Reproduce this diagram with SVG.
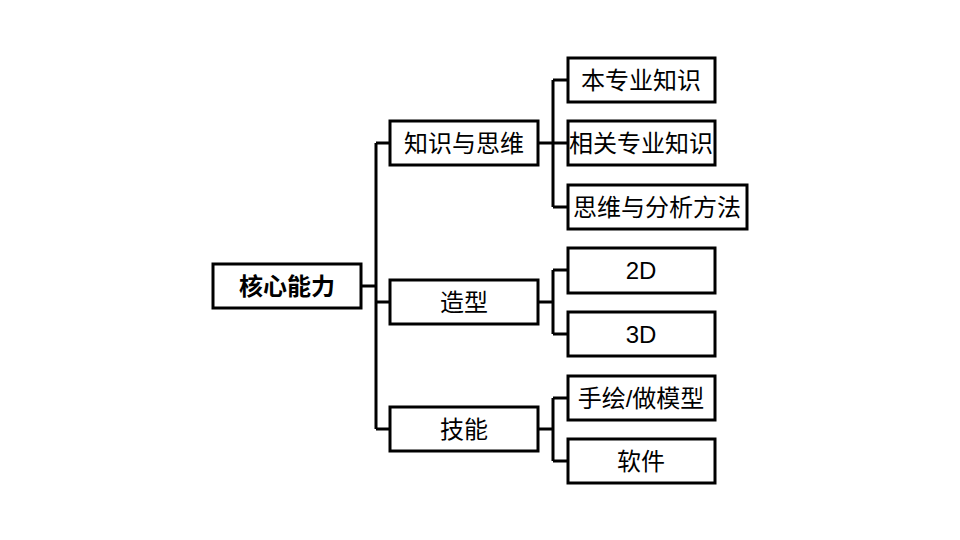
<svg xmlns="http://www.w3.org/2000/svg" width="960" height="540" viewBox="0 0 960 540">
<style>
.box{fill:#fff;stroke:#000;stroke-width:3}
.t{font-family:"Liberation Sans","Noto Sans CJK SC",sans-serif;font-size:24px;fill:#000;text-anchor:middle;dominant-baseline:central}
.b{font-weight:bold}
.c{fill:none;stroke:#000;stroke-width:3;stroke-linejoin:miter}
</style>
<rect width="960" height="540" fill="#fff"/>
<g id="connectors">
<path class="c" d="M361,286 H376 M376,143 V429 M376,143 H390 M376,302 H390 M376,429 H390"/>
<path class="c" d="M538,143 H568 M553,80 V207 M553,80 H568 M553,207 H568"/>
<path class="c" d="M538,302 H553 M553,270 V334 M553,270 H568 M553,334 H568"/>
<path class="c" d="M538,429 H553 M553,398 V461 M553,398 H568 M553,461 H568"/>
</g>
<g id="root"><rect class="box" x="213" y="264" width="148" height="44"/><text class="t b" x="287" y="286">核心能力</text></g>
<g id="n1"><rect class="box" x="390" y="121" width="148" height="44"/><text class="t" x="464" y="143">知识与思维</text></g>
<g id="n2"><rect class="box" x="390" y="280" width="148" height="44"/><text class="t" x="464" y="302">造型</text></g>
<g id="n3"><rect class="box" x="390" y="407" width="148" height="44"/><text class="t" x="464" y="429">技能</text></g>
<g id="n11"><rect class="box" x="568" y="58" width="147" height="44"/><text class="t" x="641" y="80">本专业知识</text></g>
<g id="n12"><rect class="box" x="568" y="121" width="147" height="44"/><text class="t" x="641" y="143">相关专业知识</text></g>
<g id="n13"><rect class="box" x="568" y="185" width="179" height="44"/><text class="t" x="657" y="207">思维与分析方法</text></g>
<g id="n21"><rect class="box" x="568" y="248" width="147" height="45"/><text class="t" x="641" y="270">2D</text></g>
<g id="n22"><rect class="box" x="568" y="312" width="147" height="44"/><text class="t" x="641" y="334">3D</text></g>
<g id="n31"><rect class="box" x="568" y="376" width="147" height="44"/><text class="t" x="641" y="398">手绘/做模型</text></g>
<g id="n32"><rect class="box" x="568" y="439" width="147" height="44"/><text class="t" x="641" y="461">软件</text></g>
</svg>
